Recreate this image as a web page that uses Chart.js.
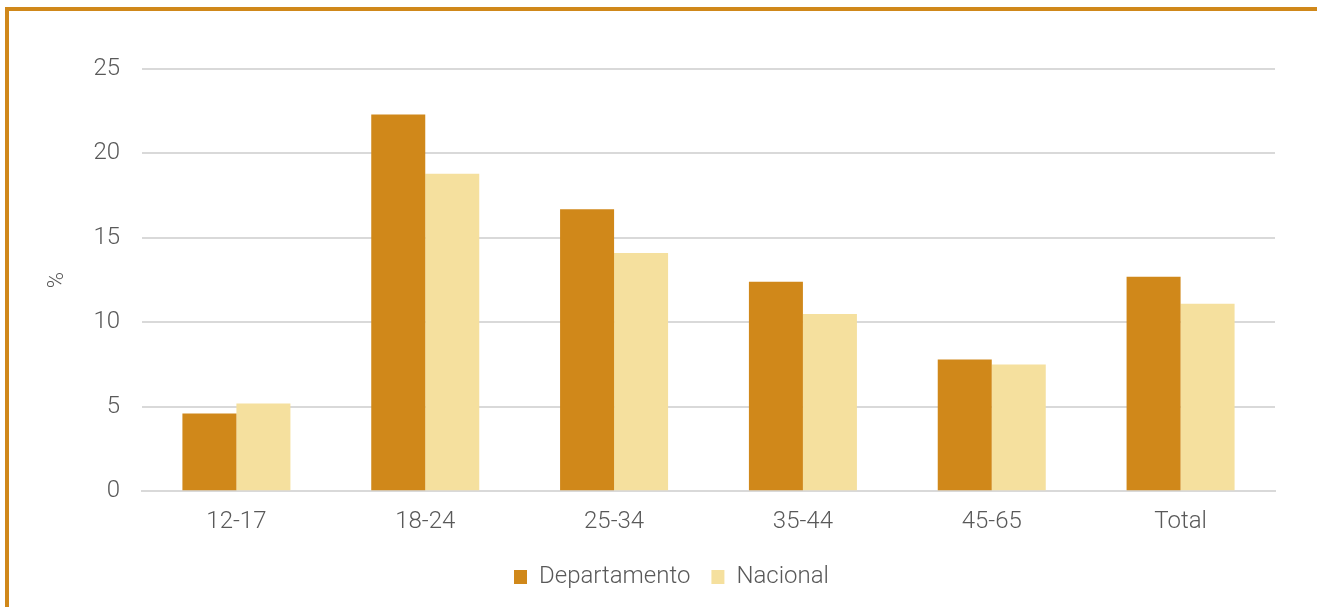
<!DOCTYPE html>
<html>
<head>
<meta charset="utf-8">
<script src="https://cdn.jsdelivr.net/npm/chart.js@4.4.1/dist/chart.umd.min.js"></script>
<style>
  html, body { margin: 0; padding: 0; background: #fff; }
  body { width: 1317px; height: 607px; position: relative; overflow: hidden; }
  #marco {
    position: absolute; left: 5px; top: 7px; width: 1400px; height: 700px;
    border-left: 4px solid #D0881A; border-top: 4px solid #D0881A;
  }
  #wrap { position: absolute; left: 0; top: 0; width: 1317px; height: 607px; }
</style>
</head>
<body>
<div id="marco"></div>
<div id="wrap"><canvas id="grafico"></canvas></div>
<script>
// grupos de edad
const edades = ['12-17', '18-24', '25-34', '35-44', '45-65', 'Total'];
// porcentajes
const departamento = [4.6, 22.3, 16.7, 12.4, 7.8, 12.7];
const nacional = [5.2, 18.8, 14.1, 10.5, 7.5, 11.1];

const gris = '#595959';
const fuente = { family: 'Roboto', size: 24, weight: '300' };

const data = {
  labels: edades,
  datasets: [{
    label: 'Departamento',
    data: departamento,
    backgroundColor: '#D0881A'
  }, {
    label: 'Nacional',
    data: nacional,
    backgroundColor: '#F5E09E'
  }]
};

const config = {
  type: 'bar',
  data: data,
  options: {
    responsive: false,
    animation: false,
    categoryPercentage: 0.572,
    barPercentage: 1,
    // el padding izquierdo centra la leyenda; el eje y se estrecha para compensar
    layout: { padding: { left: 68, right: 42, top: 69, bottom: 8 } },
    plugins: {
      tooltip: { enabled: false },
      legend: {
        position: 'bottom',
        labels: {
          color: gris,
          font: fuente,
          boxWidth: 13,
          boxHeight: 14,
          padding: 21
        }
      }
    },
    scales: {
      x: {
        grid: { display: false },
        border: { color: '#d9d9d9', width: 2 },
        ticks: { color: gris, font: fuente, padding: 8 }
      },
      y: {
        min: 0,
        max: 25,
        ticks: { stepSize: 5, color: gris, font: fuente, padding: 22 },
        grid: { color: '#d9d9d9', lineWidth: 2, drawTicks: false },
        border: { display: false },
        title: { display: true, text: '%', color: gris, font: { family: 'Roboto', size: 22, weight: '300' }, padding: { top: -24, bottom: 10 } },
        afterFit: function (scale) { scale.width = 74; }
      }
    }
  }
};

let ctx = document.getElementById('grafico');
ctx.width = 1317;
ctx.height = 607;
new Chart(ctx.getContext('2d'), config);
</script>
</body>
</html>
